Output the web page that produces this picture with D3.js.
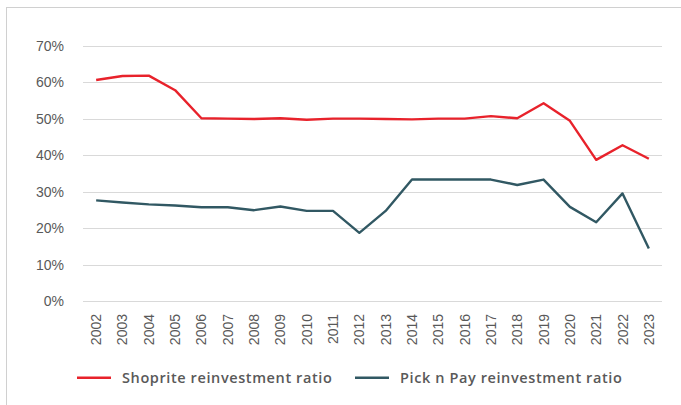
<!DOCTYPE html>
<html>
<head>
<meta charset="utf-8">
<script src="https://cdn.jsdelivr.net/npm/d3@7"></script>
<style>
  html, body { margin: 0; padding: 0; background: #fff; }
  svg { display: block; }
</style>
</head>
<body>
<svg id="chart" width="681" height="405"></svg>
<script>
(function () {
  'use strict';

  /* ── data ─────────────────────────────────────────── */
  var years = ['2002', '2003', '2004', '2005', '2006', '2007', '2008', '2009', '2010', '2011',
               '2012', '2013', '2014', '2015', '2016', '2017', '2018', '2019', '2020', '2021',
               '2022', '2023'];
  var shoprite = [60.6, 61.7, 61.8, 57.8, 50.1, 50.0, 49.9, 50.1, 49.7, 50.0,
                  50.0, 49.9, 49.8, 50.0, 50.0, 50.7, 50.1, 54.2, 49.4, 38.7,
                  42.7, 39.0];
  var picknpay = [27.6, 27.0, 26.5, 26.2, 25.7, 25.7, 24.9, 25.9, 24.7, 24.7,
                  18.7, 24.7, 33.3, 33.3, 33.3, 33.3, 31.8, 33.3, 25.8, 21.6,
                  29.5, 14.4];
  var yTicks = [0, 10, 20, 30, 40, 50, 60, 70];
  var seriesNames = ['Shoprite reinvestment ratio', 'Pick n Pay reinvestment ratio'];
  var seriesColors = ['#e8222b', '#315863'];

  /* ── layout ───────────────────────────────────────── */
  var svg = d3.select('#chart');
  var left = 83, right = 662, top = 45.7, bottom = 301;

  var x = d3.scaleBand().domain(years).range([left, right]);
  var y = d3.scaleLinear().domain([0, 70]).range([bottom, top]);

  // frame
  svg.append('rect')
    .attr('x', 6.5).attr('y', 7.5)
    .attr('width', 700).attr('height', 420)
    .attr('fill', 'none').attr('stroke', '#d0d0d0').attr('stroke-width', 1);

  // grid
  svg.append('g').selectAll('line')
    .data(yTicks).enter().append('line')
    .attr('x1', left).attr('x2', right)
    .attr('y1', function (d) { return Math.round(y(d)) + 0.5; })
    .attr('y2', function (d) { return Math.round(y(d)) + 0.5; })
    .attr('stroke', '#d9d9d9').attr('stroke-width', 1.2);

  var labelFont = '"Liberation Sans", Arial, sans-serif';

  // y axis labels
  var yAxis = d3.axisLeft(y).tickValues(yTicks)
    .tickFormat(function (d) { return d + '%'; })
    .tickSize(0).tickPadding(19);
  var gy = svg.append('g').attr('transform', 'translate(' + left + ',0)').call(yAxis);
  gy.select('.domain').remove();
  gy.selectAll('text')
    .attr('fill', '#595959')
    .style('font-family', labelFont).style('font-size', '14px');

  // x axis labels (rotated)
  var xAxis = d3.axisBottom(x).tickSize(0).tickPadding(0);
  var gx = svg.append('g').attr('transform', 'translate(0,' + bottom + ')').call(xAxis);
  gx.select('.domain').remove();
  gx.selectAll('text')
    .attr('fill', '#595959')
    .style('font-family', labelFont).style('font-size', '14px')
    .attr('text-anchor', 'end')
    .attr('dy', null)
    .attr('transform', 'translate(5,13) rotate(-90)');

  // lines
  var series = [shoprite, picknpay];
  var line = d3.line()
    .x(function (d, i) { return x(years[i]) + x.bandwidth() / 2; })
    .y(function (d) { return y(d); });

  series.forEach(function (vals, k) {
    svg.append('path')
      .datum(vals)
      .attr('d', line)
      .attr('fill', 'none')
      .attr('stroke', seriesColors[k])
      .attr('stroke-width', 2.4)
      .attr('stroke-linejoin', 'round');
  });

  // legend
  var legendX = [77, 355];
  var legendY = 377.7;
  seriesNames.forEach(function (name, k) {
    var g = svg.append('g').attr('transform', 'translate(' + legendX[k] + ',' + legendY + ')');
    g.append('line')
      .attr('x1', 0).attr('x2', 34).attr('y1', 0).attr('y2', 0)
      .attr('stroke', seriesColors[k]).attr('stroke-width', 2.4);
    g.append('text')
      .attr('x', 45).attr('y', 5)
      .attr('fill', '#595959')
      .style('font-family', '"Open Sans", sans-serif')
      .style('font-weight', 600)
      .style('font-size', '14.5px')
      .style('letter-spacing', '0.6px')
      .text(name);
  });
})();
</script>
</body>
</html>
